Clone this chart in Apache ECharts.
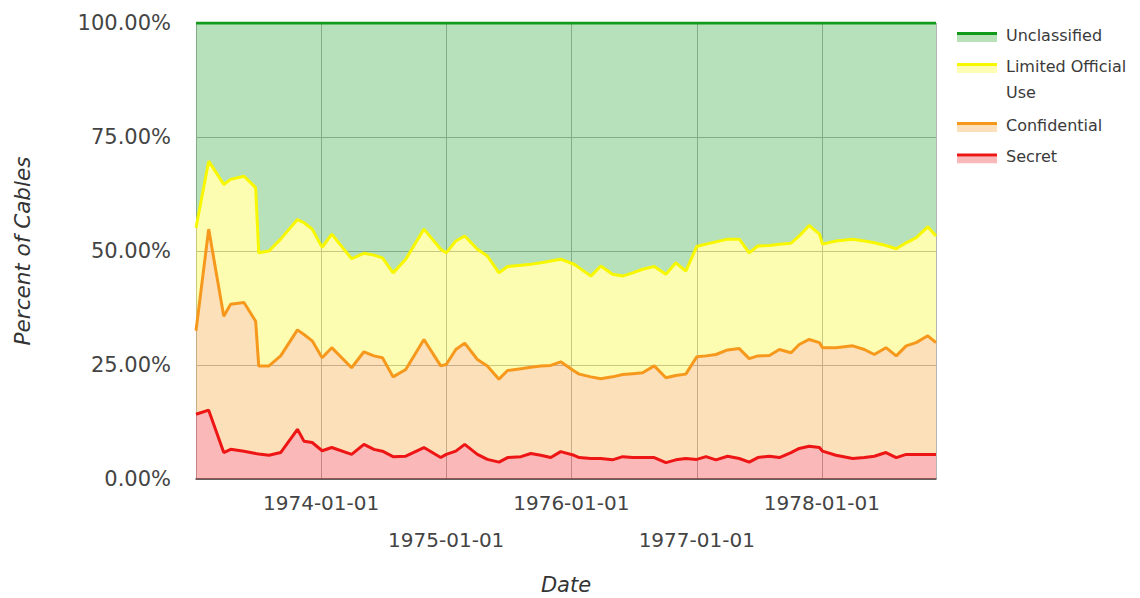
<!DOCTYPE html>
<html><head><meta charset="utf-8">
<script src="https://cdn.jsdelivr.net/npm/echarts@6/dist/echarts.min.js"></script>
<style>html,body{margin:0;padding:0;background:#fff}#c{width:1140px;height:598px}</style>
</head><body><div id="c"></div>
<script>
const dates = ['1973-01-01','1973-02-07','1973-03-23','1973-04-12','1973-05-21','1973-06-24','1973-07-03','1973-08-02','1973-09-05','1973-10-24','1973-11-12','1973-12-06',
'1974-01-04','1974-02-01','1974-03-31','1974-05-06','1974-06-04','1974-06-29','1974-07-30','1974-09-05','1974-10-28','1974-12-16',
'1975-01-01','1975-01-29','1975-02-24','1975-04-02','1975-05-01','1975-06-04','1975-06-29','1975-08-07','1975-09-05','1975-10-04','1975-11-02','1975-12-01',
'1976-01-09','1976-01-24','1976-02-27','1976-03-27','1976-04-30','1976-05-30','1976-06-28','1976-07-27','1976-08-30','1976-10-03','1976-11-01','1976-11-30',
'1977-01-01','1977-01-28','1977-02-26','1977-04-01','1977-05-05','1977-06-03','1977-06-28','1977-08-01','1977-08-30','1977-10-03','1977-10-27','1977-11-25','1977-12-25',
'1978-01-03','1978-02-11','1978-04-01','1978-05-05','1978-06-03','1978-07-07','1978-08-06','1978-09-04','1978-10-03','1978-11-06','1978-11-30'];

const secret = [14.2,15.1,5.8,6.5,6.1,5.6,5.5,5.2,5.8,10.9,8.3,8.0,
6.2,6.9,5.4,7.6,6.5,6.1,4.9,5.0,6.9,4.7,
5.4,6.1,7.6,5.4,4.3,3.7,4.7,4.9,5.6,5.2,4.7,6.0,
5.2,4.7,4.5,4.5,4.2,4.9,4.7,4.7,4.7,3.6,4.2,4.5,
4.3,4.9,4.2,5.0,4.5,3.7,4.7,5.0,4.7,5.8,6.7,7.2,6.9,
6.1,5.2,4.5,4.7,5.0,5.8,4.7,5.4,5.4,5.4,5.4];

const confidential = [18.3,39.7,29.9,31.8,32.6,29.0,19.3,19.6,21.2,21.8,23.4,22.3,
20.4,21.9,19.0,20.3,20.5,20.5,17.5,19.0,23.7,20.1,
19.7,22.3,22.2,20.8,20.5,18.2,19.1,19.3,18.9,19.6,20.2,19.7,
18.5,18.3,17.9,17.5,18.2,18.0,18.4,18.6,20.1,18.6,18.5,18.5,
22.5,22.1,23.1,23.3,24.1,22.7,22.3,22.1,23.7,21.9,22.8,23.4,23.0,
22.7,23.6,24.7,23.7,22.3,23.0,22.3,23.8,24.5,26.0,24.5];

const limitedOfficialUse = [22.6,14.9,28.9,27.4,27.7,29.3,24.8,25.2,25.6,24.2,24.5,24.5,
24.2,24.9,23.9,21.6,22.1,21.9,22.8,24.2,24.2,25.6,
24.5,23.8,23.5,24.2,24.1,23.3,22.8,22.7,22.6,22.6,22.9,22.5,
23.4,23.3,22.1,24.7,22.5,21.6,22.1,22.7,21.8,22.7,24.7,22.6,
24.2,24.5,24.7,24.3,24.0,23.2,24.1,24.1,23.1,24.0,23.8,25.0,23.8,
22.7,23.4,23.4,23.8,24.5,22.4,23.5,22.6,23.0,23.9,23.4];

const unclassified = [44.9,30.3,35.4,34.3,33.6,36.1,50.4,50.0,47.4,43.1,43.8,45.2,
49.2,46.3,51.7,50.5,50.9,51.5,54.8,51.8,45.2,49.6,
50.4,47.8,46.7,49.6,51.1,54.8,53.4,53.1,52.9,52.6,52.2,51.8,
52.9,53.7,55.5,53.3,55.1,55.5,54.8,54.0,53.4,55.1,52.6,54.4,
49.0,48.5,48.0,47.4,47.4,50.4,48.9,48.8,48.5,48.3,46.7,44.4,46.3,
48.5,47.8,47.4,47.8,48.2,48.8,49.5,48.2,47.1,44.7,46.7];

const seriesNames = ['Secret','Confidential','Limited Official Use','Unclassified'];
const seriesValues = [secret, confidential, limitedOfficialUse, unclassified];
const lineColors = ['#ee1515','#f6981c','#f7f700','#129a1a'];
const yTickLabels = ['0.00%','25.00%','50.00%','75.00%','100.00%'];

function lighten(hex, a) {
  const n = parseInt(hex.slice(1), 16);
  const r = (n >> 16) & 255, g = (n >> 8) & 255, b = n & 255;
  const m = c => Math.round(255 * (1 - a) + c * a);
  return 'rgb(' + m(r) + ',' + m(g) + ',' + m(b) + ')';
}
function icon(line) {
  const fill = lighten(line, 0.3);
  const svg = '<svg xmlns="http://www.w3.org/2000/svg" width="40" height="14">' +
    '<rect x="0" y="7" width="40" height="7" fill="' + fill + '"/>' +
    '<rect x="0" y="4" width="40" height="3" fill="' + line + '"/></svg>';
  return 'image://data:image/svg+xml;charset=utf-8,' + encodeURIComponent(svg);
}

const FONT = 'DejaVu Sans';
const firstTime = echarts.time.parse(dates[0]).getTime();

const series = seriesNames.map((name, i) => ({
  name: name,
  type: 'line',
  stack: 'total',
  data: dates.map((d, k) => [d, seriesValues[i][k]]),
  showSymbol: false,
  symbol: 'none',
  lineStyle: { color: lineColors[i], width: 3 },
  itemStyle: { color: lineColors[i] },
  areaStyle: { color: lineColors[i], opacity: 0.3 },
  emphasis: { disabled: true }
}));

function legendItem(name) {
  const i = seriesNames.indexOf(name);
  return { name: name, icon: icon(lineColors[i]) };
}
const legendBase = {
  orient: 'vertical', left: 952, itemWidth: 40, itemHeight: 14,
  selectedMode: false,
  textStyle: { fontFamily: FONT, fontSize: 16, color: '#3a3a3a', lineHeight: 20, padding: [0, 0, 0, 4] }
};

const chart = echarts.init(document.getElementById('c'), null, { renderer: 'svg' });
chart.setOption({
  animation: false,
  grid: { left: 196, right: 204, top: 23, bottom: 119, containLabel: false, outerBoundsMode: 'none' },
  legend: [
    Object.assign({}, legendBase, { top: 20, data: [legendItem('Unclassified')] }),
    Object.assign({}, legendBase, {
      top: 22, data: [legendItem('Limited Official Use')],
      formatter: n => '\nLimited Official\nUse',
      textStyle: { fontFamily: FONT, fontSize: 16, color: '#3a3a3a', lineHeight: 26, padding: [0, 0, 0, 4] }
    }),
    Object.assign({}, legendBase, { top: 110, itemGap: 11.5, data: [legendItem('Confidential'), legendItem('Secret')] })
  ],
  xAxis: {
    type: 'time',
    min: 'dataMin', max: 'dataMax',
    minInterval: 365 * 86400000, maxInterval: 366 * 86400000,
    name: 'Date', nameLocation: 'middle', nameGap: 95,
    nameTextStyle: { fontFamily: FONT, fontSize: 21, fontStyle: 'italic', color: '#333' },
    axisLine: { show: true, lineStyle: { color: '#444', width: 1.5 } },
    axisTick: { show: false },
    splitLine: { show: true, lineStyle: { color: '#b5b5b5', width: 1 } },
    axisLabel: {
      showMinLabel: false, showMaxLabel: false,
      fontFamily: FONT, fontSize: 20, color: '#444', lineHeight: 37, margin: 5,
      formatter: function (value) {
        const d = new Date(value);
        if (value <= firstTime || d.getMonth() !== 0 || d.getDate() !== 1) return '';
        const y = d.getFullYear();
        const s = y + '-01-01';
        return (y % 2 === 1) ? '\n' + s : s;
      }
    }
  },
  yAxis: {
    type: 'value', min: 0, max: 100, interval: 25,
    name: 'Percent of Cables', nameLocation: 'middle', nameGap: 163,
    nameTextStyle: { fontFamily: FONT, fontSize: 21.5, fontStyle: 'italic', color: '#333' },
    axisLine: { show: false }, axisTick: { show: false },
    splitLine: { show: true, lineStyle: { color: '#b5b5b5', width: 1 } },
    axisLabel: {
      fontFamily: FONT, fontSize: 21, color: '#444', margin: 25,
      formatter: v => yTickLabels[Math.round(v / 25)]
    }
  },
  series: series
});
</script>
</body></html>
